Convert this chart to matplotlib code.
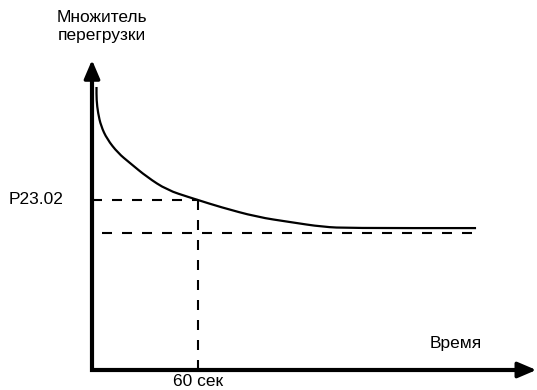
import matplotlib
matplotlib.use("Agg")
import matplotlib.pyplot as plt
from matplotlib.path import Path
from matplotlib.patches import PathPatch

plt.rcParams["font.family"] = ["Liberation Sans", "DejaVu Sans"]

# Overload curve: time (s) vs. overload multiplier
curve_time = [2.55, 2.55, 3.4, 5.1, 8.5, 14.7, 21.5, 31.1, 42.5, 55.5, 60,
              72.5, 93.4, 112.1, 130.8, 146.0, 217.4]
curve_mult = [2.066, 1.971, 1.876, 1.781, 1.686, 1.584, 1.511, 1.409, 1.314, 1.259, 1.241,
              1.190, 1.117, 1.080, 1.044, 1.036, 1.036]

overload_time = 60        # seconds
overload_level = 1.241    # P23.02
rated_level = 1.0
rated_span = [5.7, 217.4]

y_label = "Множитель\nперегрузки"
x_label = "Время"
level_label = "P23.02"
time_label = "60 сек"

fig = plt.figure(figsize=(5.37, 3.90), dpi=100)
ax = fig.add_axes([0, 0, 1, 1])
ax.set_xlim(-52.08, 251.9)
ax.set_ylim(-0.146, 2.701)
ax.axis("off")

# Axes with arrowheads
x_end, y_end = 251.5, 2.263
ax.plot([0, 0, x_end - 8], [y_end - 0.08, 0, 0], color="black", lw=3,
        solid_joinstyle="miter", solid_capstyle="butt")
arrow = dict(arrowstyle="-|>,head_length=0.75,head_width=0.32", lw=2.5,
             color="black", mutation_scale=15, shrinkA=0, shrinkB=0)
ax.annotate("", xy=(0, y_end), xytext=(0, 0), arrowprops=arrow)
ax.annotate("", xy=(x_end, 0), xytext=(0, 0), arrowprops=arrow)

# Curve: smooth quadratic path through the midpoints of the read points
pts = list(zip(curve_time, curve_mult))
verts = [pts[0], ((pts[0][0] + pts[1][0]) / 2, (pts[0][1] + pts[1][1]) / 2)]
codes = [Path.MOVETO, Path.LINETO]
for i in range(1, len(pts) - 1):
    mid = ((pts[i][0] + pts[i + 1][0]) / 2, (pts[i][1] + pts[i + 1][1]) / 2)
    verts += [pts[i], mid]
    codes += [Path.CURVE3, Path.CURVE3]
verts.append(pts[-1])
codes.append(Path.LINETO)
ax.add_patch(PathPatch(Path(verts, codes), facecolor="none", edgecolor="black",
                       lw=1.6, capstyle="butt"))

# Reference lines
dash = (0, (4.8, 4.8))
ax.plot([0, overload_time], [overload_level, overload_level], color="black", lw=1.5, ls=dash)
ax.plot([overload_time, overload_time], [overload_level, 0], color="black", lw=1.5, ls=dash)
ax.plot(rated_span, [rated_level, rated_level], color="black", lw=1.5, ls=dash)

# Labels
ax.text(5.7, 2.504, y_label, ha="center", va="center", fontsize=12.5, linespacing=1.25)
ax.text(-16.4, overload_level, level_label, ha="right", va="center", fontsize=12.5)
ax.text(205.8, 0.19, x_label, ha="center", va="center", fontsize=12.5)
ax.text(overload_time, -0.139, time_label, ha="center", va="bottom", fontsize=12.5)

fig.savefig("out.png", dpi=100)
